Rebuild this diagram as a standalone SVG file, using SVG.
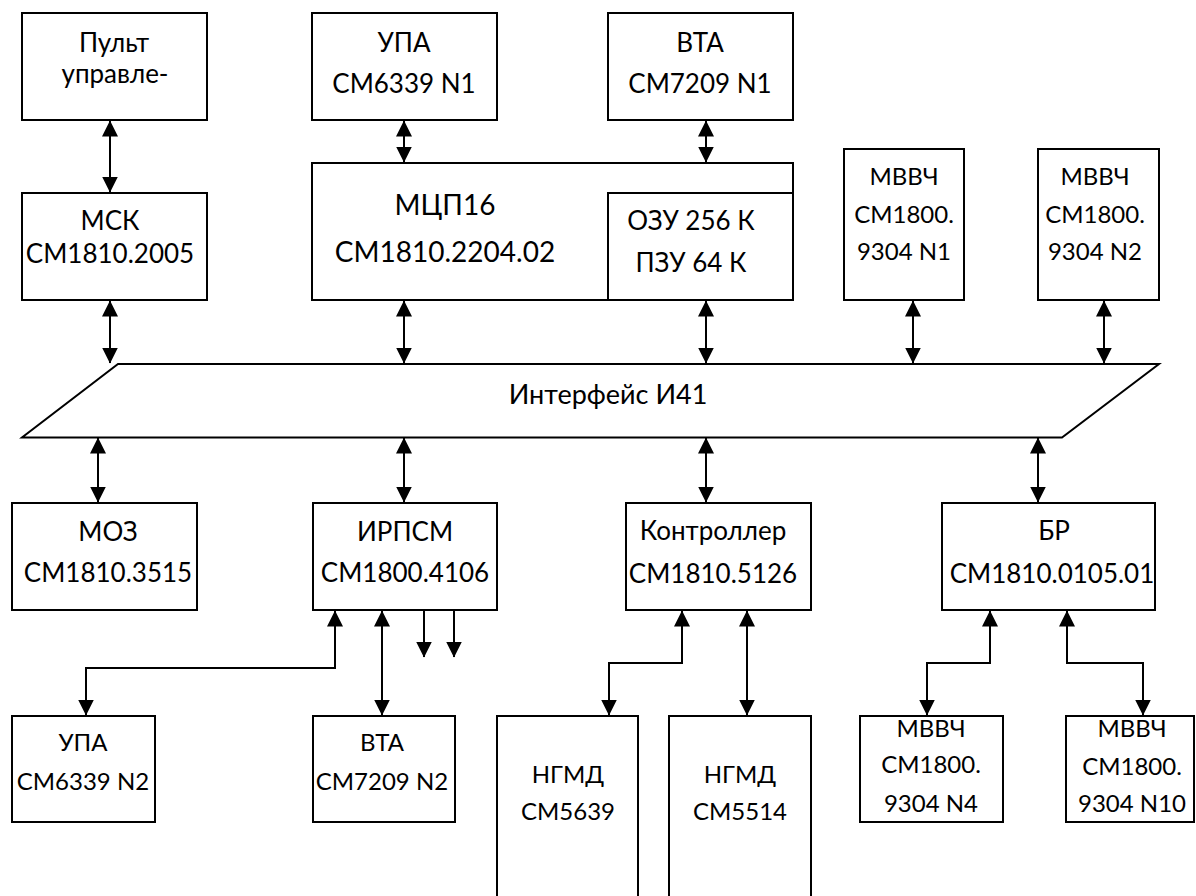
<svg xmlns="http://www.w3.org/2000/svg" width="1196" height="896" viewBox="0 0 1196 896">
<style>
.b{fill:#fff;stroke:#000;stroke-width:2}
.t{font-family:Lato,"Liberation Sans",sans-serif;font-size:26px;fill:#000;text-anchor:middle}
.s{font-size:24px}
.l{font-size:28px}
.c{fill:none;stroke:#000;stroke-width:2}
.a{marker-end:url(#ah)}
.d{marker-start:url(#ah);marker-end:url(#ah)}
</style>
<defs>
<marker id="ah" markerUnits="userSpaceOnUse" viewBox="0 0 16 16" markerWidth="16" markerHeight="16" refX="15.5" refY="8" orient="auto-start-reverse">
<path d="M0,0 L16,8 L0,16 Z" fill="#000"/>
</marker>
</defs>
<rect width="1196" height="896" fill="#fff"/>

<g id="bus">
<polygon class="b" points="118,364 1159,364 1062,437.5 22,437.5"/>
<text class="t" x="608" y="404" style="font-size:27px">Интерфейс И41</text>
</g>

<g id="pult">
<rect class="b" x="22" y="13" width="185" height="107"/>
<text class="t" x="114" y="52">Пульт</text>
<text class="t" x="115" y="83">управле-</text>
</g>
<g id="msk">
<rect class="b" x="22" y="193" width="185" height="107"/>
<text class="t" x="110" y="230">МСК</text>
<text class="t" x="110" y="263">СМ1810.2005</text>
</g>
<g id="upa1">
<rect class="b" x="312" y="13" width="185" height="107"/>
<text class="t" x="404" y="52">УПА</text>
<text class="t" x="404" y="93">СМ6339 N1</text>
</g>
<g id="vta1">
<rect class="b" x="608" y="13" width="185" height="107"/>
<text class="t" x="700" y="52">ВТА</text>
<text class="t" x="700" y="93">СМ7209 N1</text>
</g>
<g id="mcp16">
<rect class="b" x="312" y="163" width="481" height="137"/>
<text class="t l" x="445" y="215">МЦП16</text>
<text class="t l" x="445" y="262">СМ1810.2204.02</text>
</g>
<g id="ozu">
<rect class="b" x="608" y="193" width="185" height="107"/>
<text class="t" x="691" y="230">ОЗУ 256 К</text>
<text class="t" x="691" y="272">ПЗУ 64 К</text>
</g>
<g id="mvvch1">
<rect class="b" x="844" y="149" width="120" height="151"/>
<text class="t s" x="904" y="185">МВВЧ</text>
<text class="t s" x="904" y="223">СМ1800.</text>
<text class="t s" x="904" y="260">9304 N1</text>
</g>
<g id="mvvch2">
<rect class="b" x="1038" y="149" width="121" height="151"/>
<text class="t s" x="1095" y="185">МВВЧ</text>
<text class="t s" x="1095" y="223">СМ1800.</text>
<text class="t s" x="1095" y="260">9304 N2</text>
</g>
<g id="moz">
<rect class="b" x="12" y="503" width="185" height="107"/>
<text class="t" x="108" y="541">МОЗ</text>
<text class="t" x="108" y="582">СМ1810.3515</text>
</g>
<g id="irpsm">
<rect class="b" x="313" y="503" width="184" height="107"/>
<text class="t" x="405" y="541">ИРПСМ</text>
<text class="t" x="405" y="582">СМ1800.4106</text>
</g>
<g id="kontroller">
<rect class="b" x="626" y="503" width="185" height="107"/>
<text class="t" x="713" y="540">Контроллер</text>
<text class="t" x="713" y="583">СМ1810.5126</text>
</g>
<g id="br">
<rect class="b" x="942" y="503" width="213" height="107"/>
<text class="t" x="1054" y="540">БР</text>
<text class="t" x="1052" y="583">СМ1810.0105.01</text>
</g>
<g id="upa2">
<rect class="b" x="12" y="716" width="143" height="106"/>
<text class="t s" x="83" y="751">УПА</text>
<text class="t s" x="83" y="790">СМ6339 N2</text>
</g>
<g id="vta2">
<rect class="b" x="313" y="716" width="142" height="106"/>
<text class="t s" x="382" y="751">ВТА</text>
<text class="t s" x="382" y="790">СМ7209 N2</text>
</g>
<g id="ngmd1">
<rect class="b" x="497" y="716" width="141" height="200"/>
<text class="t s" x="568" y="783">НГМД</text>
<text class="t s" x="568" y="820">СМ5639</text>
</g>
<g id="ngmd2">
<rect class="b" x="669" y="716" width="142" height="200"/>
<text class="t s" x="740" y="783">НГМД</text>
<text class="t s" x="740" y="820">СМ5514</text>
</g>
<g id="mvvch4">
<rect class="b" x="860" y="716" width="143" height="106"/>
<text class="t s" x="931" y="737">МВВЧ</text>
<text class="t s" x="931" y="773">СМ1800.</text>
<text class="t s" x="931" y="812">9304 N4</text>
</g>
<g id="mvvch10">
<rect class="b" x="1066" y="716" width="128" height="106"/>
<text class="t s" x="1132" y="737">МВВЧ</text>
<text class="t s" x="1132" y="775">СМ1800.</text>
<text class="t s" x="1132" y="812">9304 N10</text>
</g>

<g id="connectors">
<line class="c d" x1="110" y1="121" x2="110" y2="192"/>
<line class="c d" x1="404" y1="121" x2="404" y2="162"/>
<line class="c d" x1="706" y1="121" x2="706" y2="162"/>
<line class="c d" x1="110" y1="301" x2="110" y2="363"/>
<line class="c d" x1="404" y1="301" x2="404" y2="363"/>
<line class="c d" x1="706" y1="301" x2="706" y2="363"/>
<line class="c d" x1="913" y1="301" x2="913" y2="363"/>
<line class="c d" x1="1104" y1="301" x2="1104" y2="363"/>
<line class="c d" x1="98" y1="438" x2="98" y2="502"/>
<line class="c d" x1="404" y1="438" x2="404" y2="502"/>
<line class="c d" x1="706" y1="438" x2="706" y2="502"/>
<line class="c d" x1="1038" y1="438" x2="1038" y2="502"/>
<polyline class="c d" points="335,611 335,668 86,668 86,715"/>
<line class="c d" x1="382" y1="611" x2="382" y2="715"/>
<line class="c a" x1="424" y1="611" x2="424" y2="657"/>
<line class="c a" x1="454" y1="611" x2="454" y2="657"/>
<polyline class="c d" points="682,611 682,663 609,663 609,715"/>
<line class="c d" x1="747" y1="611" x2="747" y2="715"/>
<polyline class="c d" points="990,611 990,663 927,663 927,715"/>
<polyline class="c d" points="1067,611 1067,663 1143,663 1143,715"/>
</g>
</svg>
